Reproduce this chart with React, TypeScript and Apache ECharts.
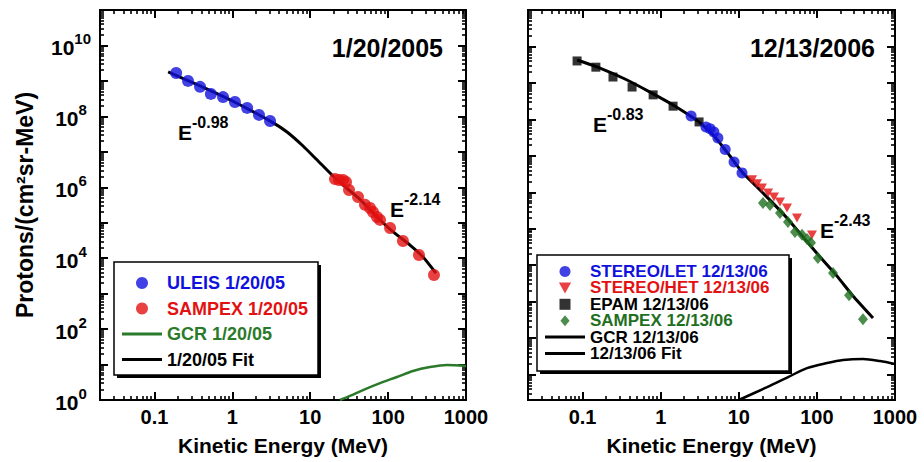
import React, { useEffect, useRef } from 'react';
import * as echarts from 'echarts';

const FONT = '"Liberation Sans", Arial, Helvetica, sans-serif';
const BLUE = '#1111dd';
const RED = '#e31212';
const GREEN = '#1f6f1f';
const GREEN_LINE = '#2a7a2a';

// ---------- Left panel: 1/20/2005 ----------
const uleisE = [0.19, 0.27, 0.385, 0.53, 0.76, 1.08, 1.55, 2.2, 3.05];
const uleisFlux = [1.67e9, 1.0e9, 6.8e8, 4.3e8, 3.5e8, 2.55e8, 1.73e8, 1.1e8, 7.4e7];
const sampexLeftE = [20.8, 23.4, 26.4, 28.8, 31.5, 41.1, 50.5, 58.6, 64, 72, 78.8, 106, 155, 249, 388];
const sampexLeftFlux = [1.71e6, 1.6e6, 1.6e6, 1.41e6, 8.4e5, 5.3e5, 3.2e5, 2.6e5, 2.0e5, 1.45e5, 1.2e5, 7.1e4, 3.05e4, 1.23e4, 3.36e3];
const gcrLeftE = [24.1, 32.4, 47.6, 78.8, 130, 209, 345, 570, 1000];
const gcrLeftFlux = [1.0, 1.3, 1.91, 3.0, 4.46, 6.6, 8.5, 9.7, 9.1];
const fitLeftE = [0.15, 0.385, 1.08, 3.23, 5.04, 8.09, 12.6, 19.6, 29.7, 43.6, 72, 116, 191, 281, 411];
const fitLeftFlux = [1.79e9, 7.2e8, 2.5e8, 6.9e7, 3.63e7, 1.46e7, 5.52e6, 2.08e6, 9.25e5, 4.53e5, 1.45e5, 5.5e4, 2.35e4, 1.08e4, 3.8e3];

// ---------- Right panel: 12/13/2006 ----------
const letE = [2.45, 3.8, 4.3, 4.8, 5.4, 6.7, 8.7, 11.0];
const letFlux = [1.23e7, 6.2e6, 5.5e6, 4.5e6, 3.1e6, 1.5e6, 6.8e5, 3.4e5];
const hetE = [14.8, 17.1, 19.8, 23.7, 28.2, 33.7, 41.4, 55.6, 86.5];
const hetFlux = [2.2e5, 1.7e5, 1.3e5, 9.6e4, 7.4e4, 5.4e4, 3.7e4, 1.96e4, 6.7e3];
const epamE = [0.085, 0.148, 0.245, 0.43, 0.8, 1.44, 3.1];
const epamFlux = [4.0e8, 2.7e8, 1.45e8, 7.7e7, 4.7e7, 2.3e7, 8.5e6];
const sampexRightE = [20.4, 25.1, 33.7, 42.6, 52.4, 64.5, 74.7, 84.1, 103, 161, 258, 389];
const sampexRightFlux = [5.1e4, 4.5e4, 2.7e4, 1.52e4, 8.1e3, 6.8e3, 5.2e3, 4.1e3, 1.57e3, 6.1e2, 1.5e2, 33];
const gcrRightE = [10, 23, 42.7, 74.7, 135, 216, 389, 643, 1000];
const gcrRightFlux = [0.2, 0.45, 0.85, 1.5, 2.07, 2.5, 2.66, 2.34, 1.94];
const fitRightE = [0.085, 0.167, 0.349, 0.73, 1.44, 3.09, 4.96, 7.7, 11.0, 16.6, 25.1, 41.4, 66.4, 110, 181, 290, 523];
const fitRightFlux = [4.25e8, 2.56e8, 1.28e8, 5.6e7, 2.48e7, 8.5e6, 3.3e6, 9.9e5, 3.6e5, 1.48e5, 6.1e4, 1.97e4, 5.9e3, 1.67e3, 5.0e2, 1.43e2, 35.5];

// ---------- Axes ----------
const xRange = [0.02, 1000];
const yLeftRange = [1, 1e11];
const yRightRange = [0.2, 1e10];
const xTickValues = [0.1, 1, 10, 100, 1000];
const xTickLabels = ['0.1', '1', '10', '100', '1000'];
const yLabelExponents = [0, 2, 4, 6, 8, 10];
const minorMultipliers = [2, 3, 4, 5, 6, 7, 8, 9];

const zip = (a: number[], b: number[]) => a.map((v, i) => [v, b[i]]);
const sameLog = (a: number, b: number) => Math.abs(Math.log10(a) - Math.log10(b)) < 1e-6;

const MAJ = 8;
const MIN = 4;
const majTick = { show: true, inside: true, length: MAJ, lineStyle: { color: '#000', width: 2 } };
const minTick = { show: true, inside: true, length: MIN, lineStyle: { color: '#000', width: 1.6 } };

// Tick-only axes: a log axis whose range is divided by `scale` puts its decade ticks
// where the main axis has the values scale * 10^k (so 2..9 give the minor ticks).
const tickX = (gridIndex: number, position: string, scale: number, tick: any) => ({
  type: 'log',
  logBase: 10,
  gridIndex,
  position,
  min: xRange[0] / scale,
  max: xRange[1] / scale,
  axisLine: { show: false },
  axisLabel: { show: false },
  splitLine: { show: false },
  axisTick: tick,
  silent: true,
});
const tickY = (gridIndex: number, position: string, range: number[], scale: number, tick: any) => ({
  type: 'log',
  logBase: 100,
  gridIndex,
  position,
  min: range[0] / scale,
  max: range[1] / scale,
  axisLine: { show: false },
  axisLabel: { show: false },
  splitLine: { show: false },
  axisTick: tick,
  silent: true,
});

const extraX: any[] = [];
const extraY: any[] = [];
[0, 1].forEach((g) => {
  const yr = g === 0 ? yLeftRange : yRightRange;
  extraX.push(tickX(g, 'top', 1, majTick));
  minorMultipliers.forEach((m) => {
    extraX.push(tickX(g, 'bottom', m, minTick));
    extraX.push(tickX(g, 'top', m, minTick));
  });
  extraY.push(tickY(g, 'left', yr, 10, majTick));
  extraY.push(tickY(g, 'right', yr, 1, majTick));
  extraY.push(tickY(g, 'right', yr, 10, majTick));
  minorMultipliers.forEach((m) => {
    [1, 10].forEach((o) => {
      extraY.push(tickY(g, 'left', yr, m * o, minTick));
      extraY.push(tickY(g, 'right', yr, m * o, minTick));
    });
  });
});

const xAxisBase = (gridIndex: number) => ({
  type: 'log',
  logBase: 10,
  gridIndex,
  position: 'bottom',
  min: xRange[0],
  max: xRange[1],
  name: 'Kinetic Energy (MeV)',
  nameLocation: 'middle',
  nameGap: 35,
  nameTextStyle: { fontSize: 21, fontWeight: 'bold', color: '#000', fontFamily: FONT },
  axisLine: { show: false },
  axisTick: majTick,
  splitLine: { show: false },
  axisLabel: {
    showMinLabel: true,
    showMaxLabel: true,
    margin: 7,
    fontSize: 20,
    fontWeight: 'bold',
    color: '#000',
    fontFamily: FONT,
    formatter: (v: number) => {
      const i = xTickValues.findIndex((t) => sameLog(t, v));
      return i >= 0 ? xTickLabels[i] : '';
    },
  },
});

const lineIcon = 'path://M0,0H40V3H0Z';
const triDown = 'path://M0,0L10,0L5,9Z';
const squareIcon = 'path://M0,0H10V10H0Z';
const diamondIcon = 'path://M5,0L10,6L5,12L0,6Z';

const eLabel = (x: number, y: number, exp: string) => ({
  type: 'text',
  x,
  y,
  z: 20,
  style: {
    text: `{e|E}{s|${exp}}`,
    align: 'left',
    verticalAlign: 'bottom',
    rich: {
      e: { fontSize: 21, fontWeight: 'bold', fontFamily: FONT, fill: '#000', verticalAlign: 'bottom' },
      s: { fontSize: 16, fontWeight: 'bold', fontFamily: FONT, fill: '#000', verticalAlign: 'bottom', padding: [0, 0, 13, 0] },
    },
  },
});

const legendBox = (x: number, y: number, w: number, h: number) => [
  { type: 'rect', z: 3, shape: { x: x + 3, y: y + 3, width: w, height: h }, style: { fill: '#000' } },
  { type: 'rect', z: 3, shape: { x, y, width: w, height: h }, style: { fill: '#fff', stroke: '#000', lineWidth: 1.5 } },
];

export default function App() {
  const ref = useRef<HTMLDivElement>(null);
  useEffect(() => {
    if (!ref.current) return;
    const chart = echarts.init(ref.current, undefined, { renderer: 'svg' });
    const option: any = {
      animation: false,
      backgroundColor: '#fff',
      textStyle: { fontFamily: FONT },
      grid: [
        { left: 100, top: 10, width: 366, height: 390, show: true, borderColor: '#000', borderWidth: 2, backgroundColor: 'transparent', outerBoundsMode: 'none' },
        { left: 528, top: 10, width: 367, height: 390, show: true, borderColor: '#000', borderWidth: 2, backgroundColor: 'transparent', outerBoundsMode: 'none' },
      ],
      xAxis: [xAxisBase(0), xAxisBase(1), ...extraX],
      yAxis: [
        {
          type: 'log',
          logBase: 100,
          gridIndex: 0,
          position: 'left',
          min: yLeftRange[0],
          max: yLeftRange[1],
          name: 'Protons/(cm²sr-MeV)',
          nameLocation: 'middle',
          nameRotate: 90,
          nameGap: 64,
          nameTextStyle: { fontSize: 23, fontWeight: 'bold', color: '#000', fontFamily: FONT },
          axisLine: { show: false },
          axisTick: majTick,
          splitLine: { show: false },
          axisLabel: {
            showMinLabel: true,
            showMaxLabel: true,
            align: 'center',
            margin: 29,
            padding: [5, 0, 0, 0],
            color: '#000',
            formatter: (v: number) => {
              const e = Math.round(Math.log10(v));
              if (Math.abs(Math.log10(v) - e) > 1e-6 || !yLabelExponents.includes(e)) return '';
              return `{b|10}{s|${e}}`;
            },
            rich: {
              b: { fontSize: 21, fontWeight: 'bold', color: '#000', fontFamily: FONT, verticalAlign: 'bottom', lineHeight: 21 },
              s: { fontSize: 15, fontWeight: 'bold', color: '#000', fontFamily: FONT, verticalAlign: 'bottom', lineHeight: 15, padding: [0, 0, 12, 0] },
            },
          },
        },
        {
          type: 'log',
          logBase: 100,
          gridIndex: 1,
          position: 'left',
          min: yRightRange[0],
          max: yRightRange[1],
          axisLine: { show: false },
          axisTick: majTick,
          splitLine: { show: false },
          axisLabel: { show: false },
        },
        ...extraY,
      ],
      legend: [
        {
          orient: 'vertical',
          left: 122,
          top: 274,
          z: 10,
          padding: 0,
          itemWidth: 40,
          itemHeight: 12,
          itemGap: 7.5,
          selectedMode: false,
          textStyle: { fontSize: 18, fontWeight: 'bold', fontFamily: FONT, lineHeight: 18 },
          data: [
            { name: 'ULEIS 1/20/05', icon: 'circle', textStyle: { color: BLUE } },
            { name: 'SAMPEX 1/20/05', icon: 'circle', textStyle: { color: RED } },
            { name: 'GCR 1/20/05', icon: lineIcon, textStyle: { color: GREEN_LINE } },
            { name: '1/20/05 Fit', icon: lineIcon, textStyle: { color: '#000' } },
          ],
        },
        {
          orient: 'vertical',
          left: 545,
          top: 263,
          z: 10,
          padding: 0,
          itemWidth: 40,
          itemHeight: 11,
          itemGap: -0.6,
          selectedMode: false,
          textStyle: { fontSize: 17, fontWeight: 'bold', fontFamily: FONT, lineHeight: 17 },
          data: [
            { name: 'STEREO/LET 12/13/06', icon: 'circle', textStyle: { color: BLUE } },
            { name: 'STEREO/HET 12/13/06', icon: triDown, textStyle: { color: RED } },
            { name: 'EPAM 12/13/06', icon: squareIcon, textStyle: { color: '#000' } },
            { name: 'SAMPEX 12/13/06', icon: diamondIcon, textStyle: { color: GREEN } },
            { name: 'GCR 12/13/06', icon: lineIcon, textStyle: { color: '#000' } },
            { name: '12/13/06 Fit', icon: lineIcon, textStyle: { color: '#000' } },
          ],
        },
      ],
      graphic: [
        ...legendBox(114, 262, 204, 113),
        ...legendBox(537, 255, 252, 116),
        {
          type: 'text', x: 443, y: 48, z: 20,
          style: { text: '1/20/2005', fontSize: 25, fontWeight: 'bold', fontFamily: FONT, fill: '#000', align: 'right', verticalAlign: 'middle' },
        },
        {
          type: 'text', x: 875, y: 48, z: 20,
          style: { text: '12/13/2006', fontSize: 25, fontWeight: 'bold', fontFamily: FONT, fill: '#000', align: 'right', verticalAlign: 'middle' },
        },
        eLabel(178, 143, '-0.98'),
        eLabel(390, 220, '-2.14'),
        eLabel(593, 135, '-0.83'),
        eLabel(820, 241, '-2.43'),
      ],
      series: [
        // left
        { name: 'GCR 1/20/05', type: 'line', xAxisIndex: 0, yAxisIndex: 0, data: zip(gcrLeftE, gcrLeftFlux), symbol: 'none', smooth: 0.3, color: GREEN_LINE, lineStyle: { color: GREEN_LINE, width: 2.5 }, z: 2 },
        { name: '1/20/05 Fit', type: 'line', xAxisIndex: 0, yAxisIndex: 0, data: zip(fitLeftE, fitLeftFlux), symbol: 'none', smooth: 0.15, color: '#000', lineStyle: { color: '#000', width: 3 }, z: 2 },
        { name: 'ULEIS 1/20/05', type: 'scatter', xAxisIndex: 0, yAxisIndex: 0, data: zip(uleisE, uleisFlux), symbol: 'circle', symbolSize: 12, itemStyle: { color: BLUE }, z: 3 },
        { name: 'SAMPEX 1/20/05', type: 'scatter', xAxisIndex: 0, yAxisIndex: 0, data: zip(sampexLeftE, sampexLeftFlux), symbol: 'circle', symbolSize: 12, itemStyle: { color: RED }, z: 3 },
        // right
        { name: 'GCR 12/13/06', type: 'line', xAxisIndex: 1, yAxisIndex: 1, data: zip(gcrRightE, gcrRightFlux), symbol: 'none', smooth: 0.3, color: '#000', lineStyle: { color: '#000', width: 2.5 }, z: 2 },
        { name: '12/13/06 Fit', type: 'line', xAxisIndex: 1, yAxisIndex: 1, data: zip(fitRightE, fitRightFlux), symbol: 'none', smooth: 0.15, color: '#000', lineStyle: { color: '#000', width: 3 }, z: 2 },
        { name: 'EPAM 12/13/06', type: 'scatter', xAxisIndex: 1, yAxisIndex: 1, data: zip(epamE, epamFlux), symbol: 'rect', symbolSize: 9, itemStyle: { color: '#000' }, z: 3 },
        { name: 'STEREO/LET 12/13/06', type: 'scatter', xAxisIndex: 1, yAxisIndex: 1, data: zip(letE, letFlux), symbol: 'circle', symbolSize: 11, itemStyle: { color: BLUE }, z: 3 },
        { name: 'STEREO/HET 12/13/06', type: 'scatter', xAxisIndex: 1, yAxisIndex: 1, data: zip(hetE, hetFlux), symbol: triDown, symbolSize: [10, 9], itemStyle: { color: RED }, z: 3 },
        { name: 'SAMPEX 12/13/06', type: 'scatter', xAxisIndex: 1, yAxisIndex: 1, data: zip(sampexRightE, sampexRightFlux), symbol: 'diamond', symbolSize: [10, 12], itemStyle: { color: GREEN }, z: 3 },
      ],
    };
    chart.setOption(option);
    return () => chart.dispose();
  }, []);
  return <div ref={ref} style={{ position: 'fixed', left: 0, top: 0, width: 924, height: 462, background: '#fff' }} />;
}
